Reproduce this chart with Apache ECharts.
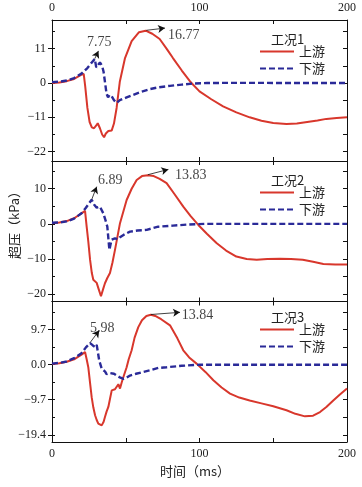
<!DOCTYPE html>
<html>
<head>
<meta charset="utf-8">
<script src="https://cdn.jsdelivr.net/npm/echarts@6/dist/echarts.min.js"></script>
<style>
  html, body { margin: 0; padding: 0; background: #fff; }
  #chart { width: 362px; height: 487px; }
</style>
</head>
<body>
<div id="chart"></div>
<script>
// 工况1
const t1Up = [0, 5, 10, 15, 20, 21.5, 22.5, 24, 25.5, 27, 28.5, 30, 31, 32.5, 34, 35.3, 36.5, 38.2, 40.5, 42, 43.8, 46, 49.5, 54, 59, 63.5, 68, 73, 78, 82, 88, 93.6, 100, 108, 116, 125, 134, 142, 150, 159, 166, 173, 180, 186, 193, 200];
const v1Up = [0, 0.2, 0.6, 1.3, 2.7, 2.9, -1, -8, -12.5, -14.2, -14.5, -13.6, -12.9, -14.5, -16.5, -17.4, -16.2, -15.4, -15.2, -13, -8, 0.5, 8, 13.4, 16.3, 16.77, 15.8, 14.1, 10.8, 8, 4, 0.5, -2.7, -5.2, -7.5, -9.4, -11, -12.1, -12.8, -13.1, -13, -12.5, -12, -11.5, -11.2, -11];
const t1Down = [0, 5, 10, 15, 20, 24, 27, 29, 30, 31, 32.5, 34, 35, 36, 37, 38, 39, 40.5, 42, 43.8, 46, 50.6, 55, 60, 66, 72, 80, 88, 95, 105, 120, 140, 160, 180, 200];
const v1Down = [0.3, 0.4, 0.8, 1.6, 3, 4.8, 6.6, 7.75, 5, 5.4, 6.6, 5.5, 3.5, 0, -3.5, -4.6, -3.8, -4.3, -5.5, -6.4, -5.5, -4.6, -3.8, -2.9, -2, -1.4, -0.9, -0.5, -0.2, 0, 0.05, 0.05, 0, 0, 0];

// 工况2
const t2Up = [0, 5, 10, 15, 20, 22.4, 23.5, 24.6, 25.8, 27, 28, 30.3, 31.8, 33.2, 34.5, 35.9, 37.5, 39.3, 41, 42.7, 46.1, 50.6, 54, 57.4, 61, 65, 69, 73, 77.7, 83, 89, 94, 99.2, 105, 111.7, 118, 125, 132, 138.8, 146, 154.6, 162, 170, 177, 184, 192, 200];
const v2Up = [0.2, 0.4, 0.8, 1.6, 3, 3.7, -0.8, -5, -10.2, -14, -15.9, -16.8, -18.8, -20.6, -18.8, -16.9, -15.4, -14, -11, -7.4, 0.2, 6.8, 10, 12.5, 13.6, 13.83, 13.6, 12.8, 11.6, 8.5, 4.9, 2.2, -0.3, -2.8, -5.5, -7.6, -9.3, -10, -10.2, -10, -9.9, -10, -10.2, -10.8, -11.4, -11.6, -11.6];
const t2Down = [0, 5, 10, 15, 20, 23, 26.9, 28.5, 30.3, 32.5, 34.8, 36.3, 37.5, 38.9, 39.6, 40.4, 41.5, 42.7, 44.5, 46.1, 49, 52.9, 58, 64.2, 72, 82, 92, 104, 130, 160, 200];
const v2Down = [0.3, 0.4, 0.7, 1.5, 3, 4.6, 6.89, 5.5, 4.6, 4.9, 3, 1, -0.8, -7.4, -6, -4.5, -5, -4.1, -4.4, -3.8, -3, -2.2, -1.9, -1.7, -0.8, -0.5, -0.2, 0, 0, 0, 0];

// 工况3
const t3Up = [0, 5, 10, 15, 20, 22.4, 23.5, 24.6, 25.8, 26.9, 28, 29.2, 30.3, 31.4, 33.7, 35, 35.9, 37, 38.2, 39.3, 40.5, 41.5, 42.7, 44, 45, 46.1, 47.2, 48.4, 50.6, 52, 54, 56, 58.5, 61, 64, 67, 70, 74, 80, 85, 89, 93, 98, 104, 109.4, 115, 120.7, 127, 134, 142, 150, 159, 165, 171.5, 177, 181.7, 186, 190.7, 195, 200];
const v3Up = [0.2, 0.4, 0.8, 1.5, 2.8, 3.5, 1.5, -0.7, -5, -9, -11.8, -14, -15.3, -16.3, -16.8, -15.8, -14.5, -13, -11.7, -9.5, -7.1, -7.5, -6.8, -6.5, -5.4, -6.6, -5, -3.4, -0.7, 1.5, 4, 7.5, 10.4, 12.3, 13.5, 13.84, 13.5, 12.6, 10.9, 7.3, 4, 2, 0.3, -2, -4.3, -6.3, -8, -9.1, -9.9, -10.7, -11.5, -12.6, -13.6, -14.3, -14.1, -13.1, -11.7, -9.9, -8.3, -6.6];
const t3Down = [0, 5, 10, 15, 20, 23, 25.8, 27.5, 29.2, 30.3, 31.4, 32, 33.7, 35, 36, 37, 38, 39, 40.2, 42, 43.8, 46, 48.4, 50.6, 52.9, 57, 61.9, 67, 72, 77.7, 88, 100, 130, 160, 200];
const v3Down = [0.3, 0.5, 0.9, 1.8, 3.2, 4.8, 5.98, 5.4, 4.9, 5.5, 5.3, 1.2, -1.1, -1.6, -1.9, -2.6, -3, -2.3, -1.9, -2.5, -3, -3.5, -3.9, -3.6, -3, -2.5, -2, -1.5, -0.9, -0.7, -0.3, 0, 0, 0, 0];

// 峰值标注：箭头起止点、文字
const arrowsUp = [[[64, 16.9], [76.6, 17.6]], [[65, 14], [78.9, 15.5]], [[67, 13.9], [86.8, 14.5]]];
const arrowsDown = [[[29, 7.8], [31.5, 10.3]], [[26.9, 6.9], [30.3, 10.6]], [[25.8, 6.1], [32, 9.5]]];
const peakTexts = [['7.75', '16.77'], ['6.89', '13.83'], ['5.98', '13.84']];
const peakTextAt = [[[23.7, 13.1], [78.6, 15.4]], [[31.2, 12.3], [83.4, 13.9]], [[25.8, 10], [88, 13.6]]];

// 坐标轴刻度
const yLabels = [[-22, -11, 0, 11], [-20, -10, 0, 10], [-19.4, -9.7, 0, 9.7]];
const yTicks = [
    [-22, -16.5, -11, -5.5, 0, 5.5, 11, 16.5],
    [-20, -15, -10, -5, 0, 5, 10, 15],
    [-19.4, -14.55, -9.7, -4.85, 0, 4.85, 9.7, 14.55]
];
const yRange = [[-25, 20.2], [-22.1, 17.9], [-21.4, 17.5]];
const xLabels = [0, 100, 200];
const xTicks = [50, 100, 150];
const caseNames = ['工况1', '工况2', '工况3'];

const RED = '#d8372c';
const BLUE = '#2a2a98';
const NUM_FONT = 'Liberation Serif';
const CJK_FONT = 'Noto Sans CJK SC';

const zip = (ts, vs) => ts.map((t, i) => [t, vs[i]]);
const fmtY = (p, v) => {
    let s = p === 2 ? v.toFixed(1) : String(v);
    return s.replace('-', '\u2212');
};

const gridTops = [20, 161, 301.5];
const gridH = [141, 140.5, 140.5];
const legendTops = [45, 186, 323];

const chart = echarts.init(document.getElementById('chart'));

const grid = [], xAxis = [], yAxis = [], series = [], legend = [], title = [];

for (let p = 0; p < 3; p++) {
    grid.push({ left: 52, right: 15, top: gridTops[p], height: gridH[p] });

    const showBottom = p === 2;
    const showTop = p === 0;
    ['bottom', 'top'].forEach(pos => {
        xAxis.push({
            type: 'value', gridIndex: p, position: pos, min: 0, max: 200,
            axisLine: { show: true, onZero: false, lineStyle: { color: '#111', width: 1 } },
            axisTick: { show: true, inside: true, length: 4, customValues: xTicks, lineStyle: { color: '#111' } },
            axisLabel: {
                show: pos === 'bottom' ? showBottom : showTop,
                customValues: xLabels, margin: 6,
                fontFamily: NUM_FONT, fontSize: 12, color: '#222'
            },
            splitLine: { show: false }
        });
    });

    // 左轴（标签）
    yAxis.push({
        type: 'value', gridIndex: p, position: 'left', min: yRange[p][0], max: yRange[p][1],
        axisLine: { show: true, onZero: false, lineStyle: { color: '#111', width: 1 } },
        axisTick: { show: true, inside: false, length: 4, customValues: yLabels[p], lineStyle: { color: '#111' } },
        axisLabel: {
            customValues: yLabels[p], margin: 6,
            fontFamily: NUM_FONT, fontSize: 12, color: '#222',
            formatter: v => fmtY(p, v)
        },
        splitLine: { show: false }
    });
    // 右轴（内刻度）
    yAxis.push({
        type: 'value', gridIndex: p, position: 'right', min: yRange[p][0], max: yRange[p][1],
        axisLine: { show: true, onZero: false, lineStyle: { color: '#111', width: 1 } },
        axisTick: { show: true, inside: true, length: 4, customValues: yTicks[p], lineStyle: { color: '#111' } },
        axisLabel: { show: false },
        splitLine: { show: false }
    });
    // 左轴内刻度
    yAxis.push({
        type: 'value', gridIndex: p, position: 'left', min: yRange[p][0], max: yRange[p][1],
        axisLine: { show: false },
        axisTick: { show: true, inside: true, length: 3, customValues: yTicks[p], lineStyle: { color: '#111' } },
        axisLabel: { show: false },
        splitLine: { show: false }
    });

    const ups = [zip(t1Up, v1Up), zip(t2Up, v2Up), zip(t3Up, v3Up)];
    const downs = [zip(t1Down, v1Down), zip(t2Down, v2Down), zip(t3Down, v3Down)];

    const arrow = pair => ({
        silent: true, symbol: ['none', 'arrow'], symbolSize: [6, 7],
        label: { show: false },
        lineStyle: { color: '#111', width: 0.8, type: 'solid' },
        data: [[{ coord: pair[0] }, { coord: pair[1] }]]
    });

    series.push({
        name: '上游', type: 'line', xAxisIndex: p * 2, yAxisIndex: p * 3,
        data: ups[p], showSymbol: false, symbol: 'none', smooth: false,
        lineStyle: { color: RED, width: 2 }, itemStyle: { color: RED },
        markLine: arrow(arrowsUp[p]), z: 2
    });
    series.push({
        name: '下游', type: 'line', xAxisIndex: p * 2, yAxisIndex: p * 3,
        data: downs[p], showSymbol: false, symbol: 'none',
        lineStyle: { color: BLUE, width: 2.4, type: [6, 3] }, itemStyle: { color: BLUE },
        markLine: arrow(arrowsDown[p]), z: 3
    });
    series.push({
        name: 'peak' + p, type: 'scatter', xAxisIndex: p * 2, yAxisIndex: p * 3,
        symbolSize: 0, silent: true,
        data: peakTextAt[p].map((c, i) => ({ value: c, name: peakTexts[p][i] })),
        label: {
            show: true, position: 'right', distance: 0,
            formatter: d => d.name,
            fontFamily: NUM_FONT, fontSize: 14, color: '#111'
        }
    });

    legend.push({
        data: ['上游', '下游'], left: 259, top: legendTops[p], orient: 'vertical',
        itemWidth: 34, itemHeight: 14, itemGap: 4, padding: 0,
        itemStyle: { opacity: 0, borderWidth: 0 },
        textStyle: { fontFamily: CJK_FONT, fontSize: 13, color: '#222' },
        selectedMode: false
    });
    title.push({
        text: caseNames[p], left: 271, top: legendTops[p] - 12, padding: 0,
        textStyle: { fontFamily: CJK_FONT, fontSize: 13, fontWeight: 'normal', color: '#222' }
    });
}

// 纵轴标题用的空网格（仅用于定位名称）
grid.push({ left: 52, right: 15, top: 150, height: 144, show: false });
xAxis.push({ type: 'value', gridIndex: 3, show: false });
yAxis.push({
    type: 'value', gridIndex: 3, position: 'left',
    name: '超压（kPa）', nameLocation: 'middle', nameGap: 38,
    nameTextStyle: { fontFamily: CJK_FONT, fontSize: 13, color: '#222' },
    axisLine: { show: false }, axisTick: { show: false },
    axisLabel: { show: false }, splitLine: { show: false }
});

title.push({
    text: '时间（ms）', left: 160, top: 465, padding: 0,
    textStyle: { fontFamily: CJK_FONT, fontSize: 13, fontWeight: 'normal', color: '#222' }
});

chart.setOption({
    animation: false,
    backgroundColor: '#fff',
    grid, xAxis, yAxis, series, legend, title
});
</script>
</body>
</html>
